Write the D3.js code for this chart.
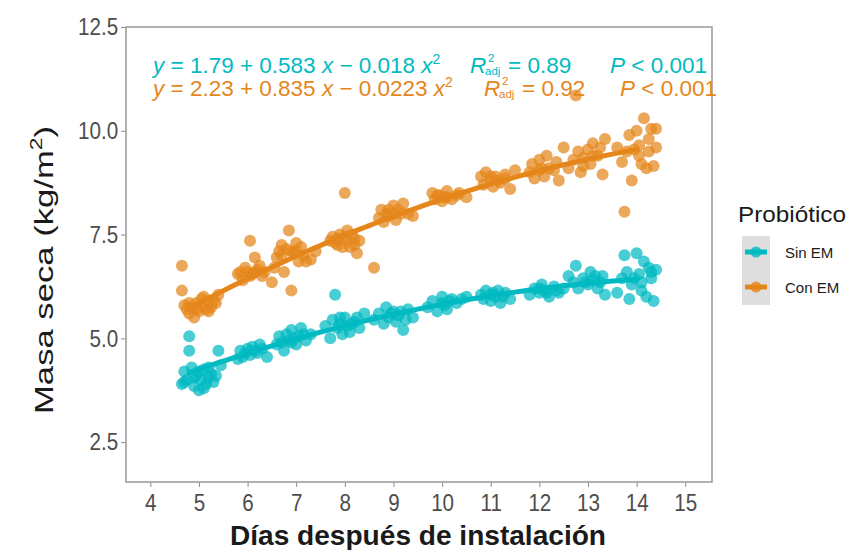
<!DOCTYPE html>
<html lang="es">
<head>
<meta charset="UTF-8">
<script src="https://d3js.org/d3.v7.min.js"></script>
<title>Masa seca</title>
<style>
  body { margin: 0; background: #fff; }
  text { font-family: "Liberation Sans", Arial, sans-serif; }
  .tick text { fill: #4d4d4d; font-size: 24px; }
  .tick line { stroke: #8c8c8c; }
  .domain { display: none; }
  .xtitle { font-weight: bold; font-size: 27px; fill: #1a1a1a; }
  .ytitle { font-size: 26px; fill: #1a1a1a; }
  .ann { font-size: 22.5px; }
  .sub { font-size: 11.5px; }
  .it { font-style: italic; }
</style>
</head>
<body>
<script>
// series: [días, masa seca]
const sinEM = [
  [4.65,3.9],[4.7,4.2],[4.75,4.0],[4.8,5.05],[4.8,4.7],[4.85,4.3],[4.9,3.85],[4.95,4.1],[5.0,3.75],[5.05,4.0],
  [5.1,4.25],[5.15,3.9],[5.2,4.05],[5.25,4.15],[5.3,3.95],[5.4,4.7],[5.45,4.35],
  [4.7,3.95],[4.9,4.05],[5.0,4.2],[5.1,3.8],[5.2,4.3],[5.35,4.1],
  [5.8,4.5],[5.85,4.7],[5.9,4.55],[6.0,4.75],[6.05,4.6],[6.1,4.8],[6.2,4.65],[6.3,4.75],[6.4,4.55],
  [6.15,4.7],[6.25,4.85],[5.95,4.65],
  [6.6,4.85],[6.65,5.05],[6.7,4.9],[6.75,4.7],[6.8,5.1],[6.85,4.95],[6.9,5.2],[7.0,4.85],[7.05,5.05],[7.1,5.25],[7.2,4.95],[7.3,5.1],
  [6.9,4.9],[6.95,5.0],[7.15,5.1],
  [7.6,5.3],[7.7,5.0],[7.75,5.45],[7.8,6.05],[7.85,5.25],[7.9,5.35],[7.95,5.1],[8.0,5.5],[8.05,5.3],[8.1,5.15],[8.2,5.4],[8.3,5.25],[8.4,5.6],
  [7.9,5.5],[8.15,5.35],[8.25,5.5],
  [8.6,5.45],[8.7,5.6],[8.8,5.35],[8.85,5.75],[8.9,5.5],[9.0,5.65],[9.05,5.4],[9.1,5.55],[9.2,5.2],[9.3,5.7],[9.4,5.5],
  [8.95,5.6],[9.15,5.65],[9.25,5.45],
  [9.7,5.75],[9.8,5.9],[9.9,5.65],[10.0,6.0],[10.05,5.8],[10.1,5.7],[10.2,5.95],[10.3,5.85],[10.5,6.0],
  [10.0,5.85],[10.15,5.9],[10.4,5.95],
  [10.8,6.05],[10.85,5.95],[10.9,6.15],[11.0,5.9],[11.05,6.1],[11.1,6.0],[11.2,5.85],[11.3,6.1],[11.4,5.95],
  [11.0,6.05],[11.15,6.15],[11.25,6.0],
  [11.8,6.05],[11.9,6.2],[12.0,6.1],[12.05,6.3],[12.1,6.15],[12.2,6.0],[12.3,6.25],[12.4,6.1],[12.5,6.2],
  [12.0,6.2],[12.15,6.1],[12.35,6.15],
  [12.6,6.5],[12.7,6.35],[12.75,6.75],[12.8,6.2],[12.9,6.45],[13.0,6.3],[13.05,6.6],[13.1,6.4],[13.2,6.2],[13.3,6.5],[13.35,6.05],
  [12.95,6.35],[13.15,6.5],[13.25,6.35],
  [13.6,6.1],[13.7,6.45],[13.75,7.0],[13.8,6.6],[13.85,5.95],[13.9,6.3],[14.0,7.05],[14.05,6.55],[14.1,6.15],[14.15,6.85],
  [14.2,6.0],[14.25,6.7],[14.3,6.6],[14.35,5.9],[14.4,6.65],
  [13.95,6.45],[14.1,6.35],[14.3,6.45]
];
const conEM = [
  [4.65,6.75],[4.65,6.15],[4.7,5.8],[4.75,5.7],[4.8,5.6],[4.85,5.75],[4.9,5.5],[4.95,5.85],[5.0,5.65],[5.05,5.8],
  [5.1,6.0],[5.15,5.7],[5.2,5.9],[5.25,5.75],[5.35,5.85],[5.4,6.05],
  [4.8,5.85],[4.95,5.7],[5.05,5.95],[5.2,5.65],[5.3,5.9],
  [5.8,6.55],[5.85,6.6],[5.9,6.4],[5.95,6.7],[6.0,6.6],[6.05,7.35],[6.1,6.55],[6.15,6.95],[6.2,6.65],[6.3,6.5],[6.35,6.6],
  [6.05,6.5],[6.15,6.6],[6.25,6.75],
  [6.5,6.35],[6.55,6.7],[6.6,6.95],[6.65,7.1],[6.7,7.25],[6.75,6.6],[6.8,7.15],[6.85,7.6],[6.9,6.15],[6.95,7.05],[7.0,7.3],
  [7.05,6.85],[7.1,7.2],[7.2,6.85],[7.3,6.9],[7.4,7.1],
  [6.7,7.0],[6.9,7.1],[7.0,7.1],[7.15,7.0],
  [7.7,7.35],[7.75,7.45],[7.8,7.3],[7.85,7.25],[7.9,7.5],[7.95,7.2],[8.0,8.5],[8.0,7.45],[8.05,7.35],[8.1,7.2],[8.15,7.5],
  [8.2,7.25],[8.25,7.05],[8.3,7.35],[8.6,6.7],
  [7.85,7.4],[8.05,7.6],[8.2,7.4],
  [8.7,7.9],[8.75,8.1],[8.8,7.8],[8.85,8.0],[8.9,7.95],[9.0,8.2],[9.05,7.85],[9.1,8.1],[9.2,8.25],[9.3,8.0],[9.4,7.95],
  [8.9,8.1],[9.0,8.0],[9.15,8.0],
  [9.8,8.5],[9.85,8.35],[9.9,8.45],[10.0,8.3],[10.05,8.4],[10.1,8.55],[10.2,8.35],[10.3,8.45],[10.5,8.4],
  [9.95,8.45],[10.1,8.4],[10.35,8.5],
  [10.8,8.9],[10.85,8.7],[10.9,9.0],[11.0,8.8],[11.05,8.65],[11.1,8.9],[11.2,8.75],[11.3,8.95],[11.4,8.6],[11.5,9.05],
  [11.0,8.9],[11.15,8.8],[11.3,8.85],
  [11.8,9.0],[11.85,9.2],[11.9,8.85],[12.0,9.3],[12.05,9.1],[12.1,8.9],[12.15,9.4],[12.3,9.05],[12.4,8.8],[12.5,9.6],
  [12.0,9.05],[12.2,9.1],[12.35,9.25],
  [12.6,9.1],[12.7,9.3],[12.75,10.85],[12.8,9.5],[12.85,9.0],[12.9,9.35],[13.0,9.55],[13.05,9.2],[13.1,9.7],[13.2,9.4],
  [13.3,8.95],[13.35,9.8],
  [12.9,9.15],[13.1,9.4],[13.25,9.6],
  [13.6,9.6],[13.7,9.25],[13.75,8.05],[13.8,9.5],[13.85,9.9],[13.9,8.8],[14.0,10.0],[14.05,9.65],[14.1,9.2],[14.15,10.3],
  [14.2,9.1],[14.25,9.8],[14.3,10.05],[14.35,9.15],[14.4,10.05],[14.4,9.6],
  [13.95,9.55],[14.05,9.4],[14.25,9.5]
];
// quadratic fits (b0, b1, b2) printed on the chart
const fitSin = [1.79, 0.583, -0.018];
const fitCon = [2.23, 0.835, -0.0223];
const fitRange = [4.8, 14.0];
const xTicks = [4,5,6,7,8,9,10,11,12,13,14,15];
const yTicks = [2.5,5.0,7.5,10.0,12.5];
const series = ["Sin EM", "Con EM"];
const colors = ["#00BAC2", "#E5861B"];

const W = 859, H = 550;
const pLeft = 126, pRight = 712, pTop = 27, pBottom = 482;

const svg = d3.select("body").append("svg")
  .attr("width", W).attr("height", H);

const x = d3.scaleLinear().domain([3.5, 15.55]).range([pLeft, pRight]);
const y = d3.scaleLinear().domain([1.54, 12.5]).range([pBottom, pTop]);

// axes (labels squeezed a bit, like the narrow font of the original)
svg.append("g")
  .attr("transform", "translate(0," + pBottom + ")")
  .call(d3.axisBottom(x).tickValues(xTicks).tickSize(5).tickPadding(7).tickFormat(d3.format("d")))
  .selectAll(".tick text").attr("transform", "scale(0.86,1)");
svg.append("g")
  .attr("transform", "translate(" + pLeft + ",0)")
  .call(d3.axisLeft(y).tickValues(yTicks).tickSize(5).tickPadding(4).tickFormat(d3.format(".1f")))
  .selectAll(".tick text").attr("transform", "scale(0.86,1)");

// points
const groups = [sinEM, conEM];
groups.forEach(function (pts, i) {
  svg.append("g").selectAll("circle")
    .data(pts)
    .enter().append("circle")
    .attr("cx", function (d) { return x(d[0]); })
    .attr("cy", function (d) { return y(d[1]); })
    .attr("r", 6)
    .style("fill", colors[i])
    .style("opacity", 0.72);
});

// fitted curves
const line = d3.line()
  .x(function (d) { return x(d[0]); })
  .y(function (d) { return y(d[1]); })
  .curve(d3.curveBasis);
[fitSin, fitCon].forEach(function (b, i) {
  const pts = d3.range(fitRange[0], fitRange[1] + 0.001, 0.1).map(function (t) {
    return [t, b[0] + b[1] * t + b[2] * t * t];
  });
  svg.append("path")
    .attr("d", line(pts))
    .style("fill", "none")
    .style("stroke", colors[i])
    .style("stroke-width", 5)
    .style("stroke-linecap", "round");
});

// panel border
svg.append("rect")
  .attr("x", pLeft).attr("y", pTop)
  .attr("width", pRight - pLeft).attr("height", pBottom - pTop)
  .style("fill", "none").style("stroke", "#9e9e9e").style("stroke-width", 1.6);

// annotations
const ann = [
  { b: fitSin, r2: "0.89", y: 73, eqX: 153, rX: 470, pX: 610 },
  { b: fitCon, r2: "0.92", y: 96, eqX: 153, rX: 484, pX: 620 }
];
ann.forEach(function (a, i) {
  const c = colors[i];
  const t = svg.append("text").attr("class", "ann").attr("x", a.eqX).attr("y", a.y).style("fill", c);
  t.append("tspan").attr("class", "it").text("y");
  t.append("tspan").text(" = " + a.b[0] + " + " + a.b[1] + " ");
  t.append("tspan").attr("class", "it").text("x");
  t.append("tspan").text(" \u2212 " + Math.abs(a.b[2]) + " ");
  t.append("tspan").attr("class", "it").text("x");
  t.append("tspan").attr("dy", -9).style("font-size", "14px").text("2");

  // R²adj: superscript over subscript
  svg.append("text").attr("class", "ann it").attr("x", a.rX).attr("y", a.y).style("fill", c).text("R");
  svg.append("text").attr("class", "sub").attr("x", a.rX + 18).attr("y", a.y - 11).style("fill", c).text("2");
  svg.append("text").attr("class", "sub").attr("x", a.rX + 15).attr("y", a.y + 2).style("fill", c).text("adj");
  svg.append("text").attr("class", "ann").attr("x", a.rX + 38).attr("y", a.y).style("fill", c).text("= " + a.r2);

  const p = svg.append("text").attr("class", "ann").attr("x", a.pX).attr("y", a.y).style("fill", c);
  p.append("tspan").attr("class", "it").text("P");
  p.append("tspan").text(" < 0.001");
});

// axis titles
svg.append("text").attr("class", "xtitle")
  .attr("x", 418).attr("y", 545)
  .attr("text-anchor", "middle")
  .attr("textLength", 376).attr("lengthAdjust", "spacingAndGlyphs")
  .text("Días después de instalación");
const yt = svg.append("text").attr("class", "ytitle")
  .attr("transform", "translate(53,270) rotate(-90)")
  .attr("text-anchor", "middle")
  .attr("textLength", 288).attr("lengthAdjust", "spacingAndGlyphs");
yt.append("tspan").text("Masa seca  (kg/m");
yt.append("tspan").attr("dy", -11).style("font-size", "17px").text("2");
yt.append("tspan").attr("dy", 11).text(")");

// legend
const lg = svg.append("g").attr("transform", "translate(738,0)");
lg.append("text").attr("x", 0).attr("y", 222).style("font-size", "22px").style("fill", "#1a1a1a")
  .attr("textLength", 108).attr("lengthAdjust", "spacingAndGlyphs").text("Probiótico");
lg.append("rect").attr("x", 4).attr("y", 236).attr("width", 28).attr("height", 69).style("fill", "#dedede");
series.forEach(function (s, i) {
  const cy = 252 + i * 35;
  lg.append("line").attr("x1", 7).attr("x2", 29).attr("y1", cy).attr("y2", cy)
    .style("stroke", colors[i]).style("stroke-width", 5);
  lg.append("circle").attr("cx", 18).attr("cy", cy).attr("r", 5.5).style("fill", colors[i]).style("opacity", 0.8);
  lg.append("text").attr("x", 47).attr("y", cy + 6).style("font-size", "15px").style("fill", "#1a1a1a").text(s);
});
</script>
</body>
</html>
